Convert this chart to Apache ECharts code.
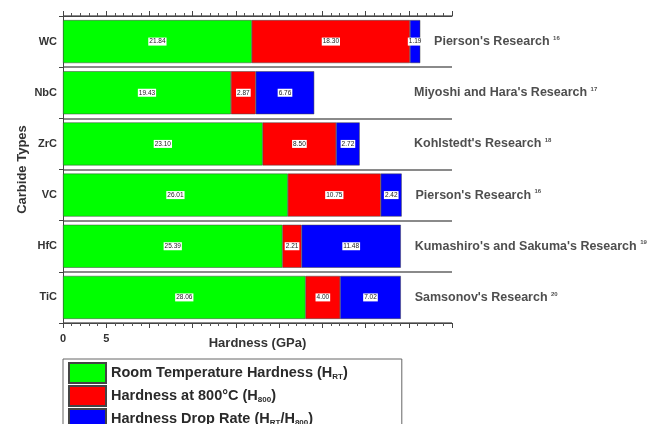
<!DOCTYPE html>
<html>
<head>
    <meta charset="UTF-8">
    <title>Carbide Hardness</title>
    <script src="https://cdn.jsdelivr.net/npm/echarts@6/dist/echarts.min.js"></script>
    <style>
        body { margin: 0; background: #fff; }
        #chart { width: 663px; height: 424px; }
    </style>
</head>
<body>
    <div id="chart"></div>
    <script>
        const carbides = ['WC', 'NbC', 'ZrC', 'VC', 'HfC', 'TiC'];
        const roomTemp = [21.84, 19.43, 23.10, 26.01, 25.39, 28.06];
        const hot800 = [18.30, 2.87, 8.50, 10.75, 2.21, 4.00];
        const dropRate = [1.19, 6.76, 2.72, 2.42, 11.48, 7.02];
        const sources = ["Pierson's Research", "Miyoshi and Hara's Research", "Kohlstedt's Research",
                         "Pierson's Research", "Kumashiro's and Sakuma's Research", "Samsonov's Research"];
        const refs = ['16', '17', '18', '16', '19', '20'];
        const xLabels = ['0', '5'];

        const font = 'Arial, "Liberation Sans", sans-serif';

        const segLabel = {
            show: true,
            position: 'inside',
            formatter: p => p.value.toFixed(2),
            fontSize: 6.5,
            fontFamily: font,
            color: '#222',
            backgroundColor: '#fff',
            padding: [1, 1, 0, 1]
        };

        function barSeries(name, values, color) {
            return {
                name: name,
                type: 'bar',
                stack: 'h',
                barWidth: '84%',
                data: values,
                itemStyle: { color: color, borderColor: '#444', borderWidth: 0.5 },
                label: segLabel,
                emphasis: { disabled: true }
            };
        }

        // the note sits past the bar end, but never left of a common column
        const notes = carbides.map((c, i) => {
            const total = roomTemp[i] + hot800[i] + dropRate[i];
            return { value: [Math.max(total + 1.6, 40.6), c], name: sources[i], ref: refs[i] };
        });

        const chart = echarts.init(document.getElementById('chart'));
        chart.setOption({
            animation: false,
            textStyle: { fontFamily: font },
            grid: { left: 63, right: 211, top: 16, bottom: 101 },
            legend: {
                orient: 'vertical',
                left: 63,
                top: 359,
                height: 100,
                itemWidth: 37,
                itemHeight: 20,
                itemGap: 1,
                padding: [3, 54, 3, 5],
                borderColor: '#666',
                borderWidth: 1,
                icon: 'rect',
                data: ['rt', 'h800', 'drop'],
                formatter: n => ({
                    rt: 'Room Temperature Hardness (H{s|RT})',
                    h800: 'Hardness at 800°C (H{s|800})',
                    drop: 'Hardness Drop Rate (H{s|RT}/H{s|800})'
                })[n],
                textStyle: {
                    fontSize: 14.5,
                    fontWeight: 'bold',
                    color: '#2a2a2a',
                    fontFamily: font,
                    rich: { s: { fontSize: 8, fontWeight: 'bold', verticalAlign: 'bottom', padding: [7, 0, 0, 0], color: '#2a2a2a' } }
                }
            },
            xAxis: [{
                type: 'value',
                min: 0,
                max: 45,
                interval: 5,
                name: 'Hardness (GPa)',
                nameLocation: 'middle',
                nameGap: 14,
                nameMoveOverlap: false,
                nameTextStyle: { fontSize: 13, fontWeight: 'bold', color: '#333' },
                axisLine: { show: true, lineStyle: { color: '#444', width: 1 } },
                axisTick: { show: true, length: 5, lineStyle: { color: '#444' } },
                minorTick: { show: true, splitNumber: 5, length: 3, lineStyle: { color: '#555' } },
                splitLine: { show: false },
                axisLabel: {
                    margin: 10,
                    fontSize: 11,
                    fontWeight: 'bold',
                    color: '#333',
                    formatter: (v, i) => xLabels[i] || ''
                }
            }, {
                type: 'value',
                position: 'top',
                min: 0,
                max: 45,
                interval: 5,
                axisLine: { show: true, lineStyle: { color: '#444', width: 1 } },
                axisTick: { show: true, length: 5, lineStyle: { color: '#444' } },
                minorTick: { show: true, splitNumber: 5, length: 3, lineStyle: { color: '#555' } },
                splitLine: { show: false },
                axisLabel: { show: false }
            }],
            yAxis: {
                type: 'category',
                data: carbides,
                inverse: true,
                name: 'Carbide Types',
                nameLocation: 'middle',
                nameGap: 34,
                nameMoveOverlap: false,
                nameTextStyle: { fontSize: 13, fontWeight: 'bold', color: '#333' },
                axisLine: { show: true, lineStyle: { color: '#444', width: 1 } },
                axisTick: { show: true, length: 4, lineStyle: { color: '#444' } },
                splitLine: { show: true, lineStyle: { color: '#8a8a8a', width: 2 } },
                axisLabel: { fontSize: 11, fontWeight: 'bold', color: '#333', margin: 6 }
            },
            series: [
                barSeries('rt', roomTemp, '#00ff00'),
                barSeries('h800', hot800, '#ff0000'),
                barSeries('drop', dropRate, '#0000ff'),
                {
                    type: 'scatter',
                    symbolSize: 0,
                    data: notes,
                    silent: true,
                    label: {
                        show: true,
                        position: 'right',
                        distance: 0,
                        formatter: p => p.data.name + ' {s|' + p.data.ref + '}',
                        fontSize: 12.5,
                        fontWeight: 'bold',
                        color: '#222',
                        rich: { s: { fontSize: 6, fontWeight: 'bold', color: '#222', verticalAlign: 'top', padding: [0, 0, 6, 0] } }
                    }
                }
            ]
        });
    </script>
</body>
</html>
